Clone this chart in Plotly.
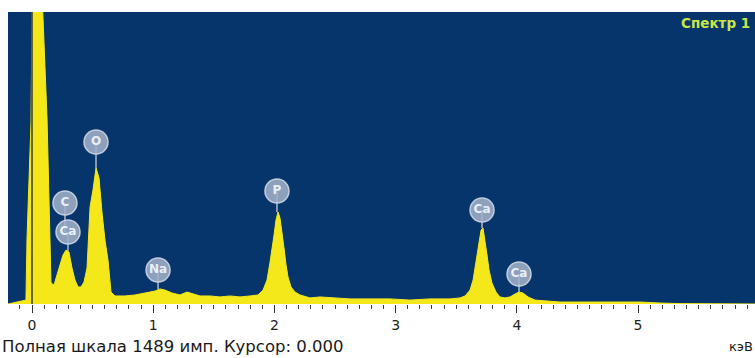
import plotly.graph_objects as go

# EDS spectrum (energy in keV, counts)
energy_kev = [-0.198, -0.05, -0.041, -0.008, 0.017, 0.124, 0.157, 0.182, 0.206, 0.231,
              0.256, 0.281, 0.305, 0.330, 0.355, 0.380, 0.404, 0.429, 0.454, 0.479,
              0.503, 0.528, 0.553, 0.578, 0.602, 0.627, 0.652, 0.685, 0.767, 0.850,
              0.932, 1.015, 1.056, 1.097, 1.155, 1.221, 1.279, 1.328, 1.386, 1.469,
              1.551, 1.634, 1.716, 1.799, 1.865, 1.906, 1.939, 1.964, 1.980, 1.997,
              2.013, 2.030, 2.046, 2.063, 2.079, 2.096, 2.112, 2.137, 2.170, 2.211,
              2.294, 2.376, 2.500, 2.624, 2.789, 2.954, 3.119, 3.284, 3.449, 3.531,
              3.573, 3.614, 3.639, 3.655, 3.672, 3.688, 3.705, 3.721, 3.738, 3.754,
              3.771, 3.795, 3.828, 3.861, 3.903, 3.944, 3.985, 4.018, 4.051, 4.092,
              4.150, 4.233, 4.356, 4.521, 4.686, 4.851, 5.017, 5.182, 5.347, 5.965]
counts = [0, 20, 337, 928, 2600, 949, 107, 97, 148, 199,
          250, 275, 265, 184, 122, 87, 87, 112, 184, 495,
          581, 694, 643, 464, 326, 224, 61, 41, 41, 46,
          56, 66, 77, 71, 56, 46, 61, 51, 41, 41,
          36, 41, 36, 41, 46, 71, 122, 214, 275, 352,
          428, 469, 439, 367, 286, 199, 138, 87, 61, 46,
          31, 36, 31, 26, 26, 26, 20, 26, 26, 31,
          41, 71, 122, 184, 240, 311, 377, 388, 326, 250,
          173, 107, 61, 36, 31, 36, 51, 61, 56, 36,
          20, 15, 10, 10, 10, 10, 10, 5, 2, 0]

# Peak labels: element, label position (keV, counts), peak top (counts)
label_text = ["C", "Ca", "O", "Na", "P", "Ca", "Ca"]
label_kev = [0.272, 0.297, 0.528, 1.040, 2.021, 3.713, 4.018]
label_counts = [515, 367, 826, 173, 576, 479, 153]
peak_counts = [367, 270, 694, 77, 469, 388, 61]

full_scale = 1489
tick_values = [0, 1, 2, 3, 4, 5]
tick_labels = ["0", "1", "2", "3", "4", "5"]

fig = go.Figure()

fig.add_trace(go.Scatter(
    x=energy_kev, y=counts, mode="lines", fill="tozeroy",
    line=dict(color="#f4e81a", width=1), fillcolor="#f4e81a",
    hoverinfo="skip", showlegend=False))

# stems
for lx, ly, py in zip(label_kev, label_counts, peak_counts):
    fig.add_trace(go.Scatter(
        x=[lx, lx], y=[ly, py], mode="lines",
        line=dict(color="rgba(190,200,215,0.9)", width=1.5),
        hoverinfo="skip", showlegend=False))

fig.add_trace(go.Scatter(
    x=label_kev, y=label_counts, mode="markers+text",
    text=["<b>%s</b>" % t for t in label_text], textposition="middle center",
    textfont=dict(family="DejaVu Sans", size=12, color="rgba(240,244,250,0.95)"),
    marker=dict(size=24, color="rgba(160,176,200,0.88)",
                line=dict(color="rgba(205,214,228,0.9)", width=1.5)),
    hoverinfo="skip", showlegend=False))

fig.add_shape(type="line", xref="x", yref="paper", x0=0, x1=0, y0=0, y1=1,
              line=dict(color="#3a3a30", width=1.5), layer="above")

fig.add_annotation(text="<b>Спектр 1</b>", xref="paper", yref="paper",
                   x=0.996, y=0.962, xanchor="right", yanchor="middle",
                   showarrow=False,
                   font=dict(family="DejaVu Sans", size=13.5, color="#c8e64c"))
fig.add_annotation(text=f"Полная шкала {full_scale} имп. Курсор: 0.000",
                   xref="paper", yref="paper", x=-0.0107, y=-0.147,
                   xanchor="left", yanchor="middle", showarrow=False,
                   font=dict(family="DejaVu Sans", size=16.5, color="#1a1a1a"))
fig.add_annotation(text="кэВ", xref="paper", yref="paper", x=1.0, y=-0.147,
                   xanchor="right", yanchor="middle", showarrow=False,
                   font=dict(family="DejaVu Sans", size=13, color="#1a1a1a"))

fig.update_layout(
    width=755, height=358,
    margin=dict(l=8, r=0, t=12, b=54),
    paper_bgcolor="white", plot_bgcolor="#06356b",
    xaxis=dict(range=[-0.198, 5.965], tickvals=tick_values, ticktext=tick_labels,
               ticks="outside", ticklen=8, tickcolor="#333", tickwidth=1.2,
               minor=dict(dtick=0.1, ticks="outside", ticklen=4, tickcolor="#444", tickwidth=1),
               showgrid=False, zeroline=False, showline=False,
               tickfont=dict(family="DejaVu Sans", size=14, color="#222")),
    yaxis=dict(range=[0, full_scale], visible=False, showgrid=False, zeroline=False),
)

fig.write_html("out.html", config={"displayModeBar": False},
               post_script="document.body.style.margin='0px';document.body.style.overflow='hidden';")
